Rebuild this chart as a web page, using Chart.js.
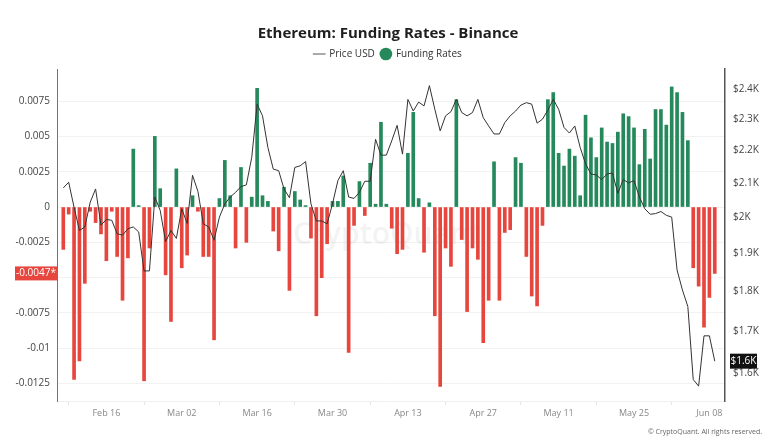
<!DOCTYPE html>
<html>
<head>
<meta charset="utf-8">
<script src="https://cdn.jsdelivr.net/npm/chart.js@4.4.1/dist/chart.umd.min.js"></script>
<style>
  html, body { margin: 0; padding: 0; background: #fff; }
  #wrap { width: 776px; height: 448px; }
</style>
</head>
<body>
<div id="wrap"><canvas id="chart" width="776" height="448"></canvas></div>
<script>
// daily funding rate (Binance), one bar per day starting Feb 08
const fundingRates = [
  -0.0030, -0.0005, -0.0122, -0.0109, -0.0054, -0.0003, -0.0011, -0.0019, -0.0038, -0.0003,
  -0.0035, -0.0066, -0.0036,  0.0041,  0.0001, -0.0123, -0.0029,  0.0050,  0.0013, -0.0048,
  -0.0081,  0.0027, -0.0043, -0.0034,  0.0008, -0.0003, -0.0035, -0.0035, -0.0094,  0.0006,
   0.0033,  0.0008, -0.0029,  0.0028, -0.0025,  0.0007,  0.0084,  0.0008,  0.0004, -0.0017,
  -0.0031,  0.0014, -0.0059,  0.0011,  0.0005,  0.0001, -0.0022, -0.0077, -0.0050, -0.0026,
   0.0004,  0.0004,  0.0022, -0.0103, -0.0013,  0.0018, -0.0006,  0.0031,  0.0002,  0.0060,
   0.0002, -0.0015, -0.0033, -0.0030,  0.0038,  0.0067,  0.0006, -0.0032,  0.0003, -0.0077,
  -0.0127, -0.0029, -0.0042,  0.0076, -0.0023, -0.0074, -0.0029, -0.0037, -0.0096, -0.0066,
   0.0032, -0.0066, -0.0018, -0.0016,  0.0035,  0.0031, -0.0035, -0.0063, -0.0070, -0.0013,
   0.0076,  0.0081,  0.0038,  0.0029,  0.0041,  0.0036,  0.0008,  0.0065,  0.0049,  0.0035,
   0.0056,  0.0046,  0.0045,  0.0053,  0.0066,  0.0064,  0.0056,  0.0030,  0.0055,  0.0034,
   0.0069,  0.0069,  0.0058,  0.0085,  0.0081,  0.0067,  0.0047, -0.0043, -0.0056, -0.0085,
  -0.0064, -0.0047
];

// ETH price in USD, same days
const priceUsd = [
  2085, 2102, 2028, 1962, 1972, 2043, 2082, 1977, 1993, 1991,
  1953, 1949, 1967, 1972, 1958, 1852, 1852, 2058, 2019, 1931,
  1962, 1940, 2024, 1982, 2123, 2075, 1981, 1972, 1935, 2000,
  2038, 2058, 2072, 2089, 2094, 2178, 2350, 2311, 2209, 2142,
  2137, 2082, 2056, 2147, 2152, 2165, 2038, 1989, 1989, 1981,
  2038, 2107, 2137, 2058, 2054, 2072, 2105, 2105, 2235, 2185,
  2185, 2230, 2280, 2188, 2366, 2327, 2357, 2344, 2413, 2333,
  2262, 2311, 2325, 2366, 2322, 2311, 2322, 2366, 2305, 2278,
  2252, 2252, 2289, 2311, 2327, 2347, 2355, 2350, 2287, 2300,
  2330, 2366, 2333, 2273, 2255, 2278, 2209, 2158, 2127, 2124,
  2110, 2127, 2130, 2069, 2110, 2100, 2107, 2058, 2024, 2008,
  2010, 2016, 2005, 2000, 1854, 1802, 1760, 1586, 1571, 1688,
  1688, 1628
];

const xTickLabels = ['Feb 16', 'Mar 02', 'Mar 16', 'Mar 30', 'Apr 13', 'Apr 27', 'May 11', 'May 25', 'Jun 08'];
const rateTicks = [-0.0125, -0.01, -0.0075, -0.005, -0.0025, 0, 0.0025, 0.005, 0.0075];
const priceTicks = [1600, 1700, 1800, 1900, 2000, 2100, 2200, 2300, 2400];

const GREEN = '#25895c';
const RED = '#e6463d';

const monthNames = ['Jan', 'Feb', 'Mar', 'Apr', 'May', 'Jun', 'Jul'];
const dates = fundingRates.map((_, i) => {
  const d = new Date(Date.UTC(2025, 1, 8 + i));
  return monthNames[d.getUTCMonth()] + ' ' + String(d.getUTCDate()).padStart(2, '0');
});
const xTicks = xTickLabels.map(l => dates.indexOf(l));
const lastRate = fundingRates[fundingRates.length - 1];
const lastPrice = priceUsd[priceUsd.length - 1];

// watermark, copyright and the two "last value" badges
const extras = {
  id: 'extras',
  beforeDatasetsDraw(chart) {
    const {ctx, chartArea: a} = chart;
    ctx.save();
    ctx.fillStyle = 'rgba(120,120,130,0.09)';
    ctx.font = '600 30px "Open Sans"';
    ctx.textAlign = 'center';
    ctx.textBaseline = 'middle';
    ctx.fillText('CryptoQuant', (a.left + a.right) / 2 - 4, (a.top + a.bottom) / 2);
    ctx.restore();
  },
  afterDraw(chart) {
    const {ctx} = chart;
    const yL = chart.scales.y, yR = chart.scales.y1;
    ctx.save();
    ctx.font = '10px "Open Sans"';
    ctx.textBaseline = 'middle';
    ctx.textAlign = 'center';
    let py = yL.getPixelForValue(lastRate);
    ctx.fillStyle = RED;
    ctx.fillRect(15, py - 7, 42, 14);
    ctx.fillStyle = '#fff';
    ctx.fillText(lastRate + '*', 36, py);
    py = yR.getPixelForValue(lastPrice);
    ctx.fillStyle = '#111';
    ctx.fillRect(730, py - 7.5, 27, 15);
    ctx.fillStyle = '#fff';
    ctx.fillText('$' + (Math.round(lastPrice / 100) / 10) + 'K', 743.5, py);
    ctx.font = '7px "Open Sans"';
    ctx.fillStyle = '#666';
    ctx.textAlign = 'right';
    ctx.fillText('\u00A9 CryptoQuant. All rights reserved.', 762, 432);
    ctx.restore();
  }
};

new Chart(document.getElementById('chart').getContext('2d'), {
  data: {
    datasets: [
      {
        type: 'line',
        label: 'Price USD',
        data: priceUsd.map((v, i) => ({x: i, y: v})),
        yAxisID: 'y1',
        borderColor: '#333',
        borderWidth: 1,
        pointRadius: 0,
        pointStyle: 'line',
        tension: 0,
        order: 0
      },
      {
        type: 'bar',
        label: 'Funding Rates',
        data: fundingRates.map((v, i) => ({x: i, y: v})),
        yAxisID: 'y',
        backgroundColor: fundingRates.map(v => v >= 0 ? GREEN : RED),
        barThickness: 3,
        order: 1
      }
    ]
  },
  options: {
    responsive: false,
    animation: false,
    layout: { padding: { top: 1 } },
    plugins: {
      title: {
        display: true,
        text: 'Ethereum: Funding Rates - Binance',
        color: '#1e1e1e',
        font: { family: '"Open Sans"', size: 15, weight: 'bold' },
        padding: { top: 24, bottom: 0 }
      },
      legend: {
        display: true,
        labels: {
          usePointStyle: true,
          font: { family: '"Open Sans"', size: 10 },
          color: '#333',
          padding: 6,
          boxHeight: 9,
          generateLabels(chart) {
            const items = Chart.defaults.plugins.legend.labels.generateLabels(chart);
            items.forEach(it => {
              if (it.text === 'Funding Rates') {
                it.fillStyle = GREEN; it.strokeStyle = GREEN; it.pointStyle = 'circle';
              } else {
                it.strokeStyle = '#555'; it.lineWidth = 1; it.pointStyle = 'line';
              }
            });
            return items;
          }
        }
      },
      tooltip: { enabled: false }
    },
    scales: {
      x: {
        type: 'linear',
        min: -1.17,
        max: 122.9,
        offset: false,
        afterBuildTicks: s => { s.ticks = xTicks.map(v => ({value: v})); },
        afterFit: s => { s.height = 47; },
        ticks: {
          autoSkip: false,
          maxRotation: 0,
          color: '#888',
          font: { family: '"Open Sans"', size: 9 },
          padding: 3,
          callback: v => dates[v]
        },
        grid: { drawOnChartArea: false, drawTicks: true, tickLength: 4, color: '#e6e6e6' },
        border: { color: '#f0f0f0' }
      },
      y: {
        position: 'left',
        min: -0.01373,
        max: 0.00977,
        afterBuildTicks: s => { s.ticks = rateTicks.map(v => ({value: v})); },
        afterFit: s => { s.width = 57; },
        ticks: {
          color: '#444',
          font: { family: '"Open Sans"', size: 10 },
          padding: 7,
          // the label under the last-value badge is hidden
          callback: v => Math.abs(v - lastRate) < 0.0008 ? '' : String(v)
        },
        grid: { color: '#f2f2f2', drawTicks: false },
        border: { color: RED, width: 1 }
      },
      y1: {
        type: 'logarithmic',
        position: 'right',
        min: 1538,
        max: 2471,
        afterBuildTicks: s => { s.ticks = priceTicks.map(v => ({value: v})); },
        afterFit: s => { s.width = 51; },
        ticks: {
          color: '#444',
          font: { family: '"Open Sans"', size: 10 },
          padding: 8,
          callback: v => '$' + (v / 1000) + 'K'
        },
        grid: { drawOnChartArea: false, drawTicks: false },
        border: { color: '#555', width: 1.5 }
      }
    }
  },
  plugins: [extras]
});
</script>
</body>
</html>
